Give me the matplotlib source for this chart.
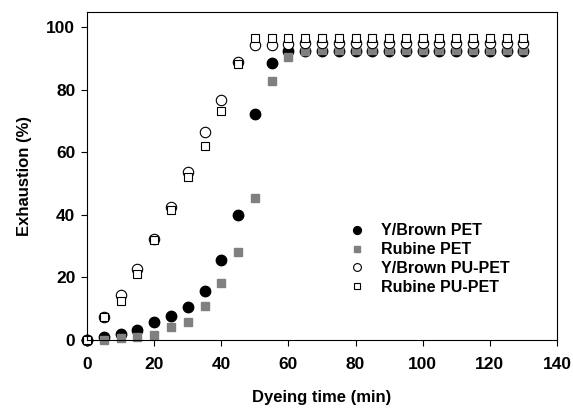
import matplotlib.pyplot as plt
import numpy as np

plt.rcParams['font.family'] = ['Liberation Sans', 'DejaVu Sans']
plt.rcParams['font.weight'] = 'bold'

time = list(range(0, 135, 5))

# exhaustion (%)
ybrown_pet = [0, 0.9, 1.8, 3.2, 5.6, 7.7, 10.4, 15.8, 25.6, 39.9, 72.2, 88.6, 92.4,
              92.5, 92.5, 92.5, 92.5, 92.5, 92.5, 92.5, 92.5, 92.5, 92.5, 92.5, 92.5, 92.5, 92.5]
rubine_pet = [0, 0, 0.5, 1.0, 1.4, 4.0, 5.6, 10.9, 18.1, 28.0, 45.3, 83.0, 90.4,
              92.6, 92.7, 92.7, 92.7, 92.7, 92.7, 92.7, 92.7, 92.7, 92.7, 92.7, 92.7, 92.7, 92.7]
ybrown_pupet = [0, 7.2, 14.4, 22.8, 32.3, 42.6, 53.7, 66.5, 76.9, 89.1, 94.5, 94.5, 94.8,
                95, 95, 95, 95, 95, 95, 95, 95, 95, 95, 95, 95, 95, 95]
rubine_pupet = [0, 7.2, 12.5, 21.1, 31.9, 41.5, 52.0, 62.1, 73.3, 88.2, 96.6, 96.6, 96.6,
                96.6, 96.6, 96.6, 96.6, 96.6, 96.6, 96.6, 96.6, 96.6, 96.6, 96.6, 96.6, 96.6, 96.6]

fig = plt.figure(figsize=(5.73, 4.08), dpi=100)
ax = fig.add_axes([0.152, 0.167, 0.82, 0.804])

ax.plot(time, ybrown_pet, 'o', color='black', ms=7.5, label='Y/Brown PET', clip_on=False)
ax.plot(time, rubine_pet, 's', color='#808080', ms=6, label='Rubine PET', clip_on=False)
ax.plot(time, ybrown_pupet, 'o', mfc='white', mec='black', mew=0.8, ms=7.5,
        label='Y/Brown PU-PET', clip_on=False)
ax.plot(time, rubine_pupet, 's', mfc='white', mec='black', mew=0.8, ms=6,
        label='Rubine PU-PET', clip_on=False)

ax.set_xlim(0, 140)
ax.set_ylim(0, 105)
ax.set_xticks(np.arange(0, 141, 20))
ax.set_yticks(np.arange(0, 101, 20))
ax.tick_params(direction='out', length=4.5, labelsize=12.5, width=0.8)
ax.tick_params(axis='x', pad=7.5)
ax.tick_params(axis='y', pad=4)
for lab in ax.get_xticklabels() + ax.get_yticklabels():
    lab.set_fontweight('bold')
ax.set_xlabel('Dyeing time (min)', fontsize=12, fontweight='bold', labelpad=13)
ax.set_ylabel('Exhaustion (%)', fontsize=12, fontweight='bold', labelpad=10)

leg = ax.legend(loc='upper left', bbox_to_anchor=(0.51, 0.399), frameon=False,
                markerscale=0.75, handletextpad=0.5, labelspacing=0.24,
                prop={'weight': 'bold', 'size': 11.5})

fig.savefig('out.png', dpi=100)
